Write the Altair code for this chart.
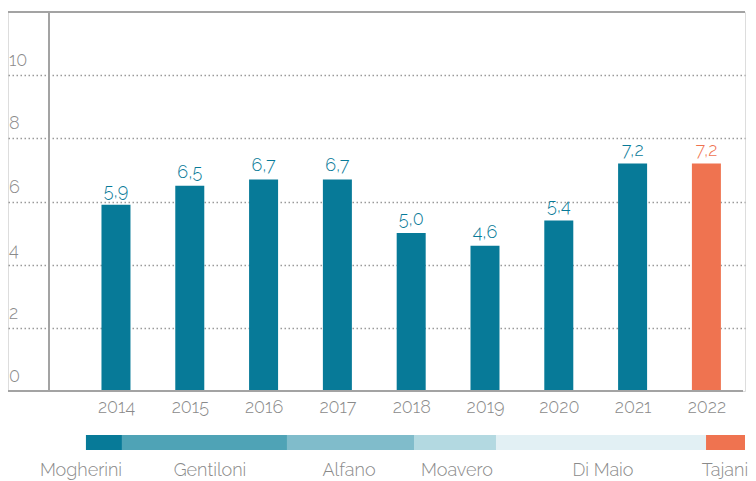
import altair as alt
import pandas as pd

# ---- data ----
years = [2014, 2015, 2016, 2017, 2018, 2019, 2020, 2021, 2022]
values = [5.9, 6.5, 6.7, 6.7, 5.0, 4.6, 5.4, 7.2, 7.2]
minister_of_year = ["Mogherini", "Gentiloni", "Gentiloni", "Alfano", "Moavero",
                    "Di Maio", "Di Maio", "Di Maio", "Tajani"]

ministers = ["Mogherini", "Gentiloni", "Alfano", "Moavero", "Di Maio", "Tajani"]
term_start = [2013.593, 2014.081, 2016.317, 2018.038, 2019.149, 2021.995]
term_end = [2014.081, 2016.317, 2018.038, 2019.149, 2021.995, 2022.523]
name_pos = [2013.526, 2015.274, 2017.157, 2018.621, 2020.599, 2022.252]

y_ticks = [0, 2, 4, 6, 8, 10]

# ---- styles ----
TEAL = "#077a98"
ORANGE = "#ef7350"
GREY_TXT = "#8a8a8a"
GREY_LINE = "#a3a3a3"
FONT = "Raleway, Lato, Open Sans, sans-serif"
term_palette = ["#077a98", "#4fa3b6", "#80bccb", "#b3d9e1", "#e2f0f4", "#ef7350"]

W, H = 737, 379

bars_df = pd.DataFrame({
    "year": years,
    "value": values,
    "label": [f"{v:.1f}".replace(".", ",") for v in values],
    "group": ["now" if m == "Tajani" else "past" for m in minister_of_year],
})
terms_df = pd.DataFrame({"minister": ministers, "start": term_start, "end": term_end,
                         "pos": name_pos})
ticks_df = pd.DataFrame({"tick": y_ticks})

xscale = alt.Scale(domain=[2012.537, 2022.523], nice=False, zero=False, padding=0)
yscale = alt.Scale(domain=[0, 12], nice=False, zero=True)
x_axis = alt.Axis(values=years, format="d", title=None, domain=False, ticks=False,
                  grid=False, labelFontSize=18, labelColor=GREY_TXT, labelFont=FONT,
                  labelFontWeight=300, labelPadding=7)
y_axis = alt.Axis(values=[2, 4, 6, 8, 10], title=None, domain=False, ticks=False,
                  labels=False, grid=True, gridDash=[1.5, 2.5], gridColor="#9a9a9a",
                  gridWidth=1.3)
bar_color = alt.Color("group:N", scale=alt.Scale(domain=["past", "now"], range=[TEAL, ORANGE]),
                      legend=None)

bars = alt.Chart(bars_df).mark_bar(width=29).encode(
    x=alt.X("year:Q", scale=xscale, axis=x_axis),
    y=alt.Y("value:Q", scale=yscale, axis=y_axis),
    color=bar_color,
)
value_labels = alt.Chart(bars_df).mark_text(
    baseline="alphabetic", dy=-8, fontSize=18, font=FONT, fontWeight=300
).encode(
    x=alt.X("year:Q", scale=xscale, axis=x_axis),
    y=alt.Y("value:Q", scale=yscale, axis=y_axis),
    text="label:N",
    color=bar_color,
)
ytick_labels = alt.Chart(ticks_df).mark_text(
    align="left", baseline="middle", dy=-14, fontSize=18, font=FONT, fontWeight=300,
    color=GREY_TXT
).encode(
    x=alt.value(1),
    y=alt.Y("tick:Q", scale=yscale, axis=y_axis),
    text="tick:Q",
)
top_line = alt.Chart().mark_rule(color=GREY_LINE, strokeWidth=2).encode(
    y=alt.datum(12, scale=yscale))
base_line = alt.Chart().mark_rule(color=GREY_LINE, strokeWidth=2).encode(
    y=alt.datum(0, scale=yscale), x=alt.value(0), x2=alt.value(W - 2))
left_line = alt.Chart().mark_rule(color=GREY_LINE, strokeWidth=2).encode(
    x=alt.value(41), y=alt.value(0), y2=alt.value(H))

strip = alt.Chart(terms_df).mark_bar().encode(
    x=alt.X("start:Q", scale=xscale, axis=x_axis),
    x2="end:Q",
    y=alt.value(423),
    y2=alt.value(438),
    color=alt.Color("minister:N", scale=alt.Scale(domain=ministers, range=term_palette),
                    legend=None),
)
names = alt.Chart(terms_df).mark_text(
    align="center", baseline="middle", fontSize=18, font=FONT, fontWeight=300,
    color=GREY_TXT
).encode(
    x=alt.X("pos:Q", scale=xscale, axis=x_axis),
    y=alt.value(459),
    text="minister:N",
)

chart = alt.layer(
    bars, value_labels, ytick_labels, top_line, base_line, left_line, strip, names
).resolve_scale(color="independent").properties(
    width=W, height=H,
    autosize=alt.AutoSizeParams(type="none"),
    padding={"left": 0, "top": 4, "right": 3, "bottom": 90},
).configure_view(stroke=None).configure(background="white")

chart.save("out.html", embed_options={"renderer": "svg", "actions": False})
